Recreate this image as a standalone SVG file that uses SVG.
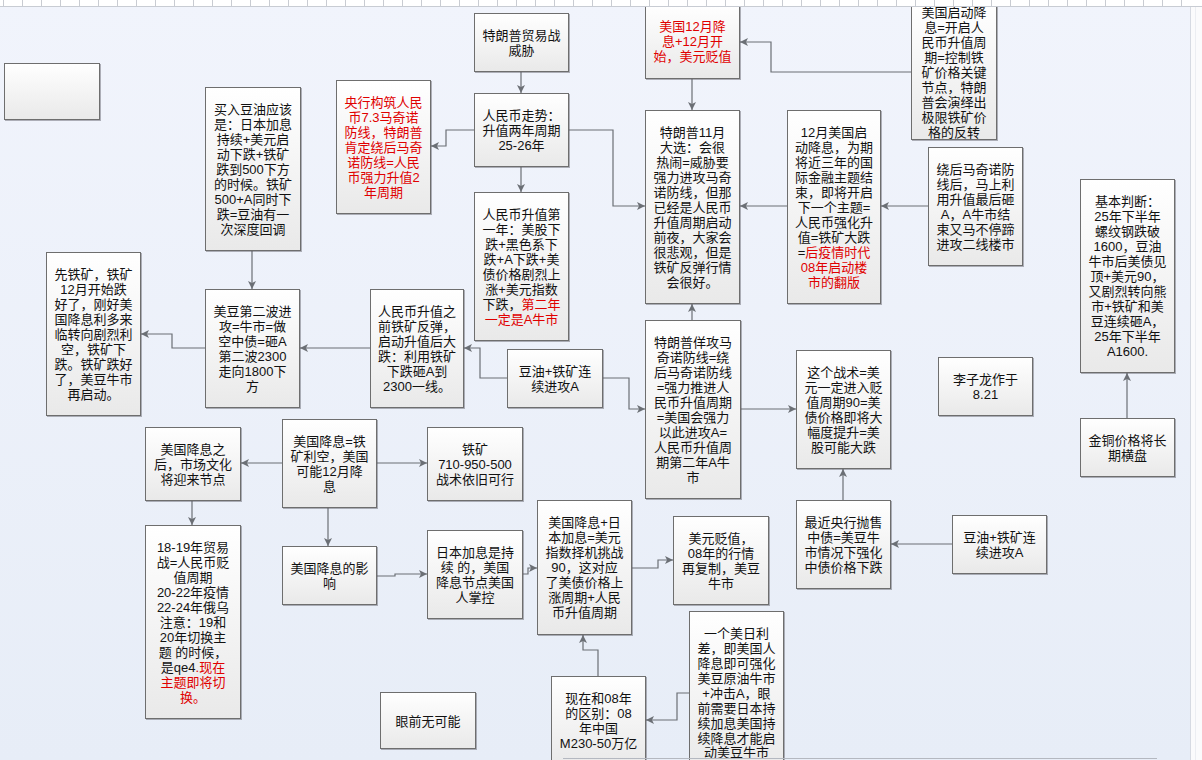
<svg xmlns="http://www.w3.org/2000/svg" width="1202" height="760" viewBox="0 0 1202 760">
<style>
.box{fill:url(#bg);stroke:#6e6e6e;stroke-width:1;filter:drop-shadow(1px 1px 0.6px rgba(90,90,100,0.45))}
.t{font-family:"Liberation Sans","Noto Sans CJK SC",sans-serif;font-size:13px;fill:#111;text-anchor:middle;dominant-baseline:central}
.r{fill:#e00000}
.c{fill:none;stroke:#6b6f75;stroke-width:1.2;marker-end:url(#ah)}
</style>
<defs>
<linearGradient id="bg" x1="0" y1="0" x2="0" y2="1"><stop offset="0" stop-color="#ffffff"/><stop offset="1" stop-color="#e9e9e9"/></linearGradient>
<linearGradient id="page" x1="0" y1="0" x2="0" y2="1"><stop offset="0" stop-color="#f1f4fc"/><stop offset="1" stop-color="#e7edf7"/></linearGradient>
<marker id="ah" markerUnits="userSpaceOnUse" markerWidth="9" markerHeight="9" refX="8" refY="4.5" orient="auto"><path d="M0,0.5 L8,4.5 L0,8.5 L2,4.5 z" fill="#6b6f75"/></marker>
<pattern id="ticks" x="3" y="0" width="19" height="7" patternUnits="userSpaceOnUse"><rect x="0" y="0" width="1" height="6" fill="#c9ccd2"/></pattern>
</defs>
<rect x="0" y="0" width="1202" height="760" fill="url(#page)"/>
<rect x="1190" y="0" width="12" height="760" fill="#fbfbfc"/>
<line x1="1190.5" y1="6" x2="1190.5" y2="760" stroke="#d6dae2"/>
<line x1="1195.5" y1="6" x2="1195.5" y2="760" stroke="#eceef2"/>

<g id="connectors">
<path class="c" d="M521,71 V93"/>
<path class="c" d="M474,130 H446 V146 H431"/>
<path class="c" d="M521,166 V192"/>
<path class="c" d="M568,130 H613 V206 H645"/>
<path class="c" d="M692,78 V110"/>
<path class="c" d="M911,72 H771 V42 H740"/>
<path class="c" d="M787,206 H740"/>
<path class="c" d="M928,206 H881"/>
<path class="c" d="M692,320 V304"/>
<path class="c" d="M740,409 H796"/>
<path class="c" d="M507,378 H480 V348 H464"/>
<path class="c" d="M602,378 H629 V409 H645"/>
<path class="c" d="M370,348 H300"/>
<path class="c" d="M252,250 V289"/>
<path class="c" d="M205,348 H172 V334 H141"/>
<path class="c" d="M282,463 H241"/>
<path class="c" d="M376,463 H427"/>
<path class="c" d="M328,507 V546"/>
<path class="c" d="M192,500 V525"/>
<path class="c" d="M376,576 H395 V574 H427"/>
<path class="c" d="M522,574 H528 V568 H537"/>
<path class="c" d="M631,568 H658 V560 H673"/>
<path class="c" d="M598,676 V650 H583 V635"/>
<path class="c" d="M689,693 H677 V720 H646"/>
<path class="c" d="M843,500 V469"/>
<path class="c" d="M952,544 H891"/>
<path class="c" d="M1127,418 V373"/>
</g>

<g id="n-empty"><rect class="box" x="4.5" y="63.5" width="95" height="56"/></g>

<g id="n-trade"><rect class="box" x="474.5" y="13.5" width="94" height="58"/>
<text class="t"><tspan x="521.5" y="34.5">特朗普贸易战</tspan><tspan x="521.5" y="49.5">威胁</tspan></text></g>

<g id="n-rmb"><rect class="box" x="474.5" y="93.5" width="94" height="73"/>
<text class="t"><tspan x="521.5" y="114.5">人民币走势：</tspan><tspan x="521.5" y="129.5">升值两年周期</tspan><tspan x="521.5" y="144.5">25-26年</tspan></text></g>

<g id="n-pboc"><rect class="box" x="336.5" y="80.5" width="94" height="133"/>
<text class="t r"><tspan x="383.5" y="101.5">央行构筑人民</tspan><tspan x="383.5" y="116.5">币7.3马奇诺</tspan><tspan x="383.5" y="131.5">防线，特朗普</tspan><tspan x="383.5" y="146.5">肯定绕后马奇</tspan><tspan x="383.5" y="161.5">诺防线=人民</tspan><tspan x="383.5" y="176.5">币强力升值2</tspan><tspan x="383.5" y="191.5">年周期</tspan></text></g>

<g id="n-year1"><rect class="box" x="474.5" y="192.5" width="94" height="148"/>
<text class="t"><tspan x="521.5" y="213.5">人民币升值第</tspan><tspan x="521.5" y="228.5">一年：美股下</tspan><tspan x="521.5" y="243.5">跌+黑色系下</tspan><tspan x="521.5" y="258.5">跌+A下跌+美</tspan><tspan x="521.5" y="273.5">债价格剧烈上</tspan><tspan x="521.5" y="288.5">涨+美元指数</tspan><tspan x="521.5" y="303.5">下跌，<tspan class="r">第二年</tspan></tspan><tspan x="521.5" y="318.5" class="r">一定是A牛市</tspan></text></g>

<g id="n-dec-cut"><rect class="box" x="645.5" y="4.5" width="94" height="74"/>
<text class="t r"><tspan x="692.5" y="26">美国12月降</tspan><tspan x="692.5" y="41">息+12月开</tspan><tspan x="692.5" y="56">始，美元贬值</tspan></text></g>

<g id="n-nov"><rect class="box" x="645.5" y="110.5" width="94" height="193"/>
<text class="t"><tspan x="692.5" y="131.5">特朗普11月</tspan><tspan x="692.5" y="146.5">大选：会很</tspan><tspan x="692.5" y="161.5">热闹=威胁要</tspan><tspan x="692.5" y="176.5">强力进攻马奇</tspan><tspan x="692.5" y="191.5">诺防线，但那</tspan><tspan x="692.5" y="206.5">已经是人民币</tspan><tspan x="692.5" y="221.5">升值周期启动</tspan><tspan x="692.5" y="236.5">前夜，大家会</tspan><tspan x="692.5" y="251.5">很悲观，但是</tspan><tspan x="692.5" y="266.5">铁矿反弹行情</tspan><tspan x="692.5" y="281.5">会很好。</tspan></text></g>

<g id="n-us-start"><rect class="box" x="911.5" y="4.5" width="85" height="135"/>
<text class="t"><tspan x="954" y="12">美国启动降</tspan><tspan x="954" y="26.5">息=开启人</tspan><tspan x="954" y="41.5">民币升值周</tspan><tspan x="954" y="56.5">期=控制铁</tspan><tspan x="954" y="71.5">矿价格关键</tspan><tspan x="954" y="86.5">节点，特朗</tspan><tspan x="954" y="101.5">普会演绎出</tspan><tspan x="954" y="116.5">极限铁矿价</tspan><tspan x="954" y="131.5">格的反转</tspan></text></g>

<g id="n-dec-us"><rect class="box" x="787.5" y="110.5" width="93" height="193"/>
<text class="t"><tspan x="834" y="131.5">12月美国启</tspan><tspan x="834" y="146.5">动降息，为期</tspan><tspan x="834" y="161.5">将近三年的国</tspan><tspan x="834" y="176.5">际金融主题结</tspan><tspan x="834" y="191.5">束，即将开启</tspan><tspan x="834" y="206.5">下一个主题=</tspan><tspan x="834" y="221.5">人民币强化升</tspan><tspan x="834" y="236.5">值=铁矿大跌</tspan><tspan x="834" y="251.5">=<tspan class="r">后疫情时代</tspan></tspan><tspan x="834" y="266.5" class="r">08年启动楼</tspan><tspan x="834" y="281.5" class="r">市的翻版</tspan></text></g>

<g id="n-bypass"><rect class="box" x="928.5" y="147.5" width="94" height="118"/>
<text class="t"><tspan x="975.5" y="168.5">绕后马奇诺防</tspan><tspan x="975.5" y="183.5">线后，马上利</tspan><tspan x="975.5" y="198.5">用升值最后砸</tspan><tspan x="975.5" y="213.5">A，A牛市结</tspan><tspan x="975.5" y="228.5">束又马不停蹄</tspan><tspan x="975.5" y="243.5">进攻二线楼市</tspan></text></g>

<g id="n-basic"><rect class="box" x="1080.5" y="179.5" width="94" height="193"/>
<text class="t"><tspan x="1127.5" y="200.5">基本判断：</tspan><tspan x="1127.5" y="215.5">25年下半年</tspan><tspan x="1127.5" y="230.5">螺纹钢跌破</tspan><tspan x="1127.5" y="245.5">1600，豆油</tspan><tspan x="1127.5" y="260.5">牛市后美债见</tspan><tspan x="1127.5" y="275.5">顶+美元90，</tspan><tspan x="1127.5" y="290.5">又剧烈转向熊</tspan><tspan x="1127.5" y="305.5">市+铁矿和美</tspan><tspan x="1127.5" y="320.5">豆连续砸A，</tspan><tspan x="1127.5" y="335.5">25年下半年</tspan><tspan x="1127.5" y="350.5">A1600.</tspan></text></g>

<g id="n-buy"><rect class="box" x="205.5" y="87.5" width="95" height="163"/>
<text class="t"><tspan x="253" y="108.5">买入豆油应该</tspan><tspan x="253" y="123.5">是：日本加息</tspan><tspan x="253" y="138.5">持续+美元启</tspan><tspan x="253" y="153.5">动下跌+铁矿</tspan><tspan x="253" y="168.5">跌到500下方</tspan><tspan x="253" y="183.5">的时候。铁矿</tspan><tspan x="253" y="198.5">500+A同时下</tspan><tspan x="253" y="213.5">跌=豆油有一</tspan><tspan x="253" y="228.5">次深度回调</tspan></text></g>

<g id="n-iron-first"><rect class="box" x="46.5" y="252.5" width="94" height="163"/>
<text class="t"><tspan x="93.5" y="273.5">先铁矿，铁矿</tspan><tspan x="93.5" y="288.5">12月开始跌</tspan><tspan x="93.5" y="303.5">好了，刚好美</tspan><tspan x="93.5" y="318.5">国降息利多来</tspan><tspan x="93.5" y="333.5">临转向剧烈利</tspan><tspan x="93.5" y="348.5">空，铁矿下</tspan><tspan x="93.5" y="363.5">跌。铁矿跌好</tspan><tspan x="93.5" y="378.5">了，美豆牛市</tspan><tspan x="93.5" y="393.5">再启动。</tspan></text></g>

<g id="n-soy2"><rect class="box" x="205.5" y="289.5" width="94" height="118"/>
<text class="t"><tspan x="252.5" y="310.5">美豆第二波进</tspan><tspan x="252.5" y="325.5">攻=牛市=做</tspan><tspan x="252.5" y="340.5">空中债=砸A</tspan><tspan x="252.5" y="355.5">第二波2300</tspan><tspan x="252.5" y="370.5">走向1800下</tspan><tspan x="252.5" y="385.5">方</tspan></text></g>

<g id="n-before"><rect class="box" x="370.5" y="289.5" width="93" height="118"/>
<text class="t"><tspan x="417" y="310.5">人民币升值之</tspan><tspan x="417" y="325.5">前铁矿反弹，</tspan><tspan x="417" y="340.5">启动升值后大</tspan><tspan x="417" y="355.5">跌：利用铁矿</tspan><tspan x="417" y="370.5">下跌砸A到</tspan><tspan x="417" y="385.5">2300一线。</tspan></text></g>

<g id="n-attack-mid"><rect class="box" x="507.5" y="349.5" width="95" height="58"/>
<text class="t"><tspan x="555" y="370.5">豆油+铁矿连</tspan><tspan x="555" y="385.5">续进攻A</tspan></text></g>

<g id="n-feint"><rect class="box" x="645.5" y="320.5" width="95" height="178"/>
<text class="t"><tspan x="693" y="341.5">特朗普佯攻马</tspan><tspan x="693" y="356.5">奇诺防线=绕</tspan><tspan x="693" y="371.5">后马奇诺防线</tspan><tspan x="693" y="386.5">=强力推进人</tspan><tspan x="693" y="401.5">民币升值周期</tspan><tspan x="693" y="416.5">=美国会强力</tspan><tspan x="693" y="431.5">以此进攻A=</tspan><tspan x="693" y="446.5">人民币升值周</tspan><tspan x="693" y="461.5">期第二年A牛</tspan><tspan x="693" y="476.5">市</tspan></text></g>

<g id="n-tactic"><rect class="box" x="796.5" y="350.5" width="94" height="118"/>
<text class="t"><tspan x="843.5" y="371.5">这个战术=美</tspan><tspan x="843.5" y="386.5">元一定进入贬</tspan><tspan x="843.5" y="401.5">值周期90=美</tspan><tspan x="843.5" y="416.5">债价格即将大</tspan><tspan x="843.5" y="431.5">幅度提升=美</tspan><tspan x="843.5" y="446.5">股可能大跌</tspan></text></g>

<g id="n-author"><rect class="box" x="938.5" y="357.5" width="94" height="58"/>
<text class="t"><tspan x="985.5" y="378.5">李子龙作于</tspan><tspan x="985.5" y="393.5">8.21</tspan></text></g>

<g id="n-gold"><rect class="box" x="1080.5" y="418.5" width="94" height="58"/>
<text class="t"><tspan x="1127.5" y="439.5">金铜价格将长</tspan><tspan x="1127.5" y="454.5">期横盘</tspan></text></g>

<g id="n-pboc-sell"><rect class="box" x="796.5" y="500.5" width="94" height="88"/>
<text class="t"><tspan x="843.5" y="521.5">最近央行抛售</tspan><tspan x="843.5" y="536.5">中债=美豆牛</tspan><tspan x="843.5" y="551.5">市情况下强化</tspan><tspan x="843.5" y="566.5">中债价格下跌</tspan></text></g>

<g id="n-attack-right"><rect class="box" x="952.5" y="515.5" width="94" height="58"/>
<text class="t"><tspan x="999.5" y="536.5">豆油+铁矿连</tspan><tspan x="999.5" y="551.5">续进攻A</tspan></text></g>

<g id="n-after-cut"><rect class="box" x="145.5" y="427.5" width="95" height="73"/>
<text class="t"><tspan x="193" y="448.5">美国降息之</tspan><tspan x="193" y="463.5">后，市场文化</tspan><tspan x="193" y="478.5">将迎来节点</tspan></text></g>

<g id="n-cut-iron"><rect class="box" x="282.5" y="419.5" width="94" height="88"/>
<text class="t"><tspan x="329.5" y="441">美国降息=铁</tspan><tspan x="329.5" y="456">矿利空，美国</tspan><tspan x="329.5" y="471">可能12月降</tspan><tspan x="329.5" y="486">息</tspan></text></g>

<g id="n-iron710"><rect class="box" x="427.5" y="427.5" width="95" height="73"/>
<text class="t"><tspan x="475" y="448.5">铁矿</tspan><tspan x="475" y="463.5">710-950-500</tspan><tspan x="475" y="478.5">战术依旧可行</tspan></text></g>

<g id="n-history"><rect class="box" x="145.5" y="525.5" width="95" height="193"/>
<text class="t"><tspan x="193" y="546.5">18-19年贸易</tspan><tspan x="193" y="561.5">战=人民币贬</tspan><tspan x="193" y="576.5">值周期</tspan><tspan x="193" y="591.5">20-22年疫情</tspan><tspan x="193" y="606.5">22-24年俄乌</tspan><tspan x="193" y="621.5">注意：19和</tspan><tspan x="193" y="636.5">20年切换主</tspan><tspan x="193" y="651.5">题 的时候，</tspan><tspan x="193" y="666.5">是qe4<tspan class="r">.现在</tspan></tspan><tspan x="193" y="681.5" class="r">主题即将切</tspan><tspan x="193" y="696.5" class="r">换。</tspan></text></g>

<g id="n-impact"><rect class="box" x="282.5" y="546.5" width="94" height="58"/>
<text class="t"><tspan x="329.5" y="567.5">美国降息的影</tspan><tspan x="329.5" y="582.5">响</tspan></text></g>

<g id="n-japan"><rect class="box" x="427.5" y="530.5" width="95" height="88"/>
<text class="t"><tspan x="475" y="551.5">日本加息是持</tspan><tspan x="475" y="566.5">续 的，美国</tspan><tspan x="475" y="581.5">降息节点美国</tspan><tspan x="475" y="596.5">人掌控</tspan></text></g>

<g id="n-impossible"><rect class="box" x="380.5" y="692.5" width="95" height="56"/>
<text class="t"><tspan x="428" y="720.5">眼前无可能</tspan></text></g>

<g id="n-dxy"><rect class="box" x="537.5" y="500.5" width="94" height="134"/>
<text class="t"><tspan x="584.5" y="522">美国降息+日</tspan><tspan x="584.5" y="537">本加息=美元</tspan><tspan x="584.5" y="552">指数择机挑战</tspan><tspan x="584.5" y="567">90，这对应</tspan><tspan x="584.5" y="582">了美债价格上</tspan><tspan x="584.5" y="597">涨周期+人民</tspan><tspan x="584.5" y="612">币升值周期</tspan></text></g>

<g id="n-usd-down"><rect class="box" x="673.5" y="516.5" width="95" height="88"/>
<text class="t"><tspan x="721" y="538">美元贬值，</tspan><tspan x="721" y="553">08年的行情</tspan><tspan x="721" y="568">再复制，美豆</tspan><tspan x="721" y="583">牛市</tspan></text></g>

<g id="n-spread"><rect class="box" x="689.5" y="611.5" width="94" height="163"/>
<text class="t"><tspan x="736.5" y="633">一个美日利</tspan><tspan x="736.5" y="648">差，即美国人</tspan><tspan x="736.5" y="663">降息即可强化</tspan><tspan x="736.5" y="678">美豆原油牛市</tspan><tspan x="736.5" y="693">+冲击A，眼</tspan><tspan x="736.5" y="708">前需要日本持</tspan><tspan x="736.5" y="723">续加息美国持</tspan><tspan x="736.5" y="738">续降息才能启</tspan><tspan x="736.5" y="752">动美豆牛市</tspan></text></g>

<g id="n-diff08"><rect class="box" x="551.5" y="676.5" width="94" height="88"/>
<text class="t"><tspan x="598.5" y="698">现在和08年</tspan><tspan x="598.5" y="713">的区别：08</tspan><tspan x="598.5" y="728">年中国</tspan><tspan x="598.5" y="743">M230-50万亿</tspan></text></g>

<line x1="563" y1="758.5" x2="1157" y2="758.5" stroke="#b4b8c0" stroke-width="1.2"/>
<rect x="0" y="0" width="1202" height="6" fill="#ffffff"/>
<rect x="0" y="0" width="1190" height="6" fill="url(#ticks)"/>
<line x1="0" y1="6.5" x2="1202" y2="6.5" stroke="#c8ccd3"/>
</svg>
